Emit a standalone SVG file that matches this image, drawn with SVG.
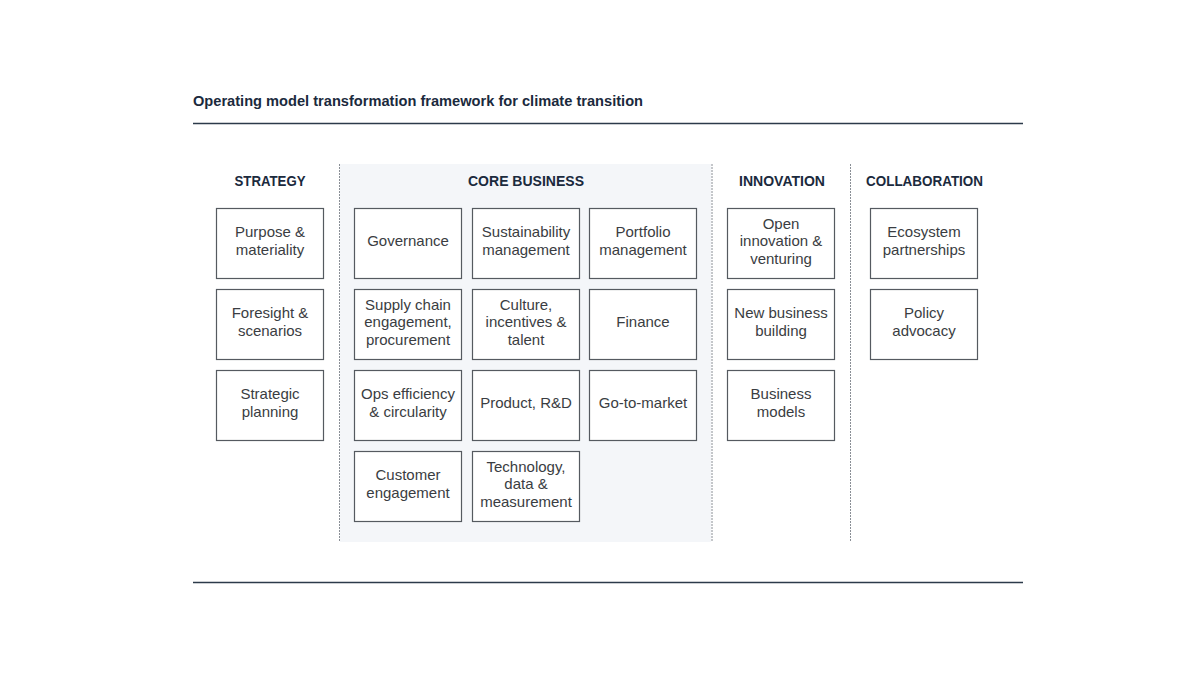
<svg xmlns="http://www.w3.org/2000/svg" width="1200" height="675" viewBox="0 0 1200 675">
<style>
.title{font-family:"Liberation Sans",Arial,sans-serif;font-size:15px;font-weight:bold;fill:#1b2a3d}
.head{font-family:"Liberation Sans",Arial,sans-serif;font-size:15px;font-weight:bold;fill:#1b2a3d;text-anchor:middle}
.box{fill:#ffffff;stroke:#555a60;stroke-width:1.2}
.lbl{font-family:"Liberation Sans",Arial,sans-serif;font-size:15px;fill:#3a3d42;text-anchor:middle}
.rule{stroke:#2c3a4a;stroke-width:1.5}
.div{stroke:#8a8f96;stroke-width:1;stroke-dasharray:2 1}
</style>
<rect width="1200" height="675" fill="#ffffff"/>
<text class="title" x="193" y="106" textLength="450" lengthAdjust="spacingAndGlyphs">Operating model transformation framework for climate transition</text>
<line class="rule" x1="193" y1="123.5" x2="1023" y2="123.5"/>
<line class="rule" x1="193" y1="582.5" x2="1023" y2="582.5"/>
<rect x="340" y="164" width="371" height="378" fill="#f4f6f9"/>
<g id="dividers">
<line class="div" x1="339.5" y1="164" x2="339.5" y2="542"/>
<line class="div" x1="712" y1="164" x2="712" y2="542"/>
<line class="div" x1="850.5" y1="164" x2="850.5" y2="542"/>
</g>
<g id="headers">
<text class="head" x="270" y="186" textLength="71" lengthAdjust="spacingAndGlyphs">STRATEGY</text>
<text class="head" x="526" y="186" textLength="116" lengthAdjust="spacingAndGlyphs">CORE BUSINESS</text>
<text class="head" x="782" y="186" textLength="86" lengthAdjust="spacingAndGlyphs">INNOVATION</text>
<text class="head" x="924.5" y="186" textLength="117" lengthAdjust="spacingAndGlyphs">COLLABORATION</text>
</g>
<g id="connectors"/>
<g id="n-purpose"><rect class="box" x="216.5" y="208.5" width="107" height="70"/><text class="lbl" x="270" y="237.3">Purpose &amp;</text><text class="lbl" x="270" y="254.8">materiality</text></g>
<g id="n-foresight"><rect class="box" x="216.5" y="289.5" width="107" height="70"/><text class="lbl" x="270" y="318.3">Foresight &amp;</text><text class="lbl" x="270" y="335.8">scenarios</text></g>
<g id="n-strategic"><rect class="box" x="216.5" y="370.5" width="107" height="70"/><text class="lbl" x="270" y="399.3">Strategic</text><text class="lbl" x="270" y="416.8">planning</text></g>

<g id="n-governance"><rect class="box" x="354.5" y="208.5" width="107" height="70"/><text class="lbl" x="408" y="246">Governance</text></g>
<g id="n-sustainability"><rect class="box" x="472.5" y="208.5" width="107" height="70"/><text class="lbl" x="526" y="237.3">Sustainability</text><text class="lbl" x="526" y="254.8">management</text></g>
<g id="n-portfolio"><rect class="box" x="589.5" y="208.5" width="107" height="70"/><text class="lbl" x="643" y="237.3">Portfolio</text><text class="lbl" x="643" y="254.8">management</text></g>

<g id="n-supply"><rect class="box" x="354.5" y="289.5" width="107" height="70"/><text class="lbl" x="408" y="309.5">Supply chain</text><text class="lbl" x="408" y="327">engagement,</text><text class="lbl" x="408" y="344.5">procurement</text></g>
<g id="n-culture"><rect class="box" x="472.5" y="289.5" width="107" height="70"/><text class="lbl" x="526" y="309.5">Culture,</text><text class="lbl" x="526" y="327">incentives &amp;</text><text class="lbl" x="526" y="344.5">talent</text></g>
<g id="n-finance"><rect class="box" x="589.5" y="289.5" width="107" height="70"/><text class="lbl" x="643" y="327">Finance</text></g>

<g id="n-ops"><rect class="box" x="354.5" y="370.5" width="107" height="70"/><text class="lbl" x="408" y="399.3">Ops efficiency</text><text class="lbl" x="408" y="416.8">&amp; circularity</text></g>
<g id="n-product"><rect class="box" x="472.5" y="370.5" width="107" height="70"/><text class="lbl" x="526" y="408">Product, R&amp;D</text></g>
<g id="n-gtm"><rect class="box" x="589.5" y="370.5" width="107" height="70"/><text class="lbl" x="643" y="408">Go-to-market</text></g>

<g id="n-customer"><rect class="box" x="354.5" y="451.5" width="107" height="70"/><text class="lbl" x="408" y="480.3">Customer</text><text class="lbl" x="408" y="497.8">engagement</text></g>
<g id="n-tech"><rect class="box" x="472.5" y="451.5" width="107" height="70"/><text class="lbl" x="526" y="471.5">Technology,</text><text class="lbl" x="526" y="489">data &amp;</text><text class="lbl" x="526" y="506.5">measurement</text></g>

<g id="n-open"><rect class="box" x="727.5" y="208.5" width="107" height="70"/><text class="lbl" x="781" y="228.5">Open</text><text class="lbl" x="781" y="246">innovation &amp;</text><text class="lbl" x="781" y="263.5">venturing</text></g>
<g id="n-newbiz"><rect class="box" x="727.5" y="289.5" width="107" height="70"/><text class="lbl" x="781" y="318.3">New business</text><text class="lbl" x="781" y="335.8">building</text></g>
<g id="n-models"><rect class="box" x="727.5" y="370.5" width="107" height="70"/><text class="lbl" x="781" y="399.3">Business</text><text class="lbl" x="781" y="416.8">models</text></g>

<g id="n-ecosystem"><rect class="box" x="870.5" y="208.5" width="107" height="70"/><text class="lbl" x="924" y="237.3">Ecosystem</text><text class="lbl" x="924" y="254.8">partnerships</text></g>
<g id="n-policy"><rect class="box" x="870.5" y="289.5" width="107" height="70"/><text class="lbl" x="924" y="318.3">Policy</text><text class="lbl" x="924" y="335.8">advocacy</text></g>
</svg>
